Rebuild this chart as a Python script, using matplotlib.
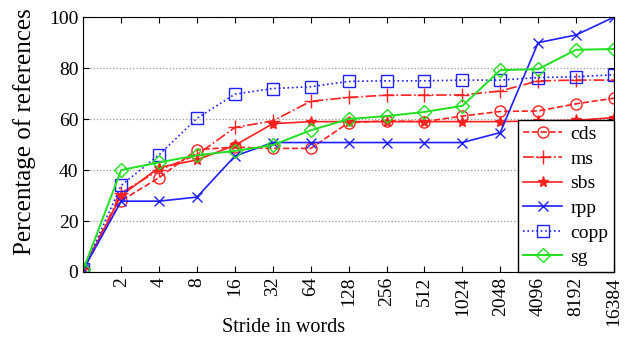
import numpy as np
import matplotlib
matplotlib.use("Agg")
import matplotlib.pyplot as plt

strides = ["", "2", "4", "8", "16", "32", "64", "128", "256", "512",
           "1024", "2048", "4096", "8192", "16384"]

cds = [1, 28, 37, 48, 49, 48.5, 48.5, 58.6, 59.3, 59, 61.2, 63, 63.2, 66, 68.2]
ms = [1, 31, 40, 46, 56.7, 59.3, 67, 68.5, 69.4, 69.4, 69.5, 71, 75, 75.3, 75.3]
sbs = [1, 30, 41, 44, 49.7, 58.2, 59, 59, 59, 59, 59, 59, 59.3, 59.5, 60.6]
rpp = [1, 27.8, 27.8, 29.4, 45.5, 50.8, 50.8, 50.8, 50.8, 50.8, 50.8, 54.7, 90, 93, 100]
copp = [1, 34, 46, 60.3, 69.8, 72, 72.7, 74.8, 75, 75, 75.3, 75.3, 76.3, 76.6, 77.4]
sg = [1, 40, 43, 45.8, 47.5, 49.8, 55.6, 60, 61.2, 62.8, 65.2, 79.2, 79.6, 87.2, 87.5]

plt.rcParams["font.family"] = "Liberation Serif"
fig = plt.figure(figsize=(6.31, 3.43), dpi=100)
ax = fig.add_axes([0.132, 0.207, 0.841, 0.743])
x = np.arange(len(strides))

ax.plot(x, cds, color="#ff2020", ls="--", marker="o", mfc="none", ms=8, lw=1.2, label="cds")
ax.plot(x, ms, color="#ff2020", ls="-.", marker="+", ms=10, lw=1.2, label="ms")
ax.plot(x, sbs, color="#ff2020", ls="-", marker="*", ms=8, lw=1.2, label="sbs")
ax.plot(x, rpp, color="#2020ff", ls="-", marker="x", ms=7, lw=1.2, label="rpp")
ax.plot(x, copp, color="#2020ff", ls=":", marker="s", mfc="none", ms=8, lw=1.2, label="copp")
ax.plot(x, sg, color="#20e020", ls="-", marker="D", mfc="none", ms=7, lw=1.4, label="sg")

ax.set_xlim(0, 14)
ax.set_ylim(0, 100)
ax.set_xticks(x)
ax.set_xticklabels(strides, rotation=90, fontsize=14)
ax.set_yticks([0, 20, 40, 60, 80, 100])
ax.tick_params(axis="y", labelsize=14)
ax.tick_params(direction="in", top=True, right=True, length=4)
ax.yaxis.grid(True, ls=":", color="#999999", lw=0.9)
ax.set_xlabel("Stride in words", fontsize=14.5)
ax.xaxis.set_label_coords(0.377, -0.18)
ax.set_ylabel("Percentage of references", fontsize=18)
ax.yaxis.set_label_coords(-0.09, 0.55)

leg = ax.legend(loc="lower right", fontsize=14, fancybox=False, framealpha=1,
                edgecolor="black", borderaxespad=0, labelspacing=0.36,
                handlelength=2.0, handletextpad=0.4, borderpad=0.3)
leg.get_frame().set_linewidth(1.0)

fig.savefig("out.png", dpi=100)
